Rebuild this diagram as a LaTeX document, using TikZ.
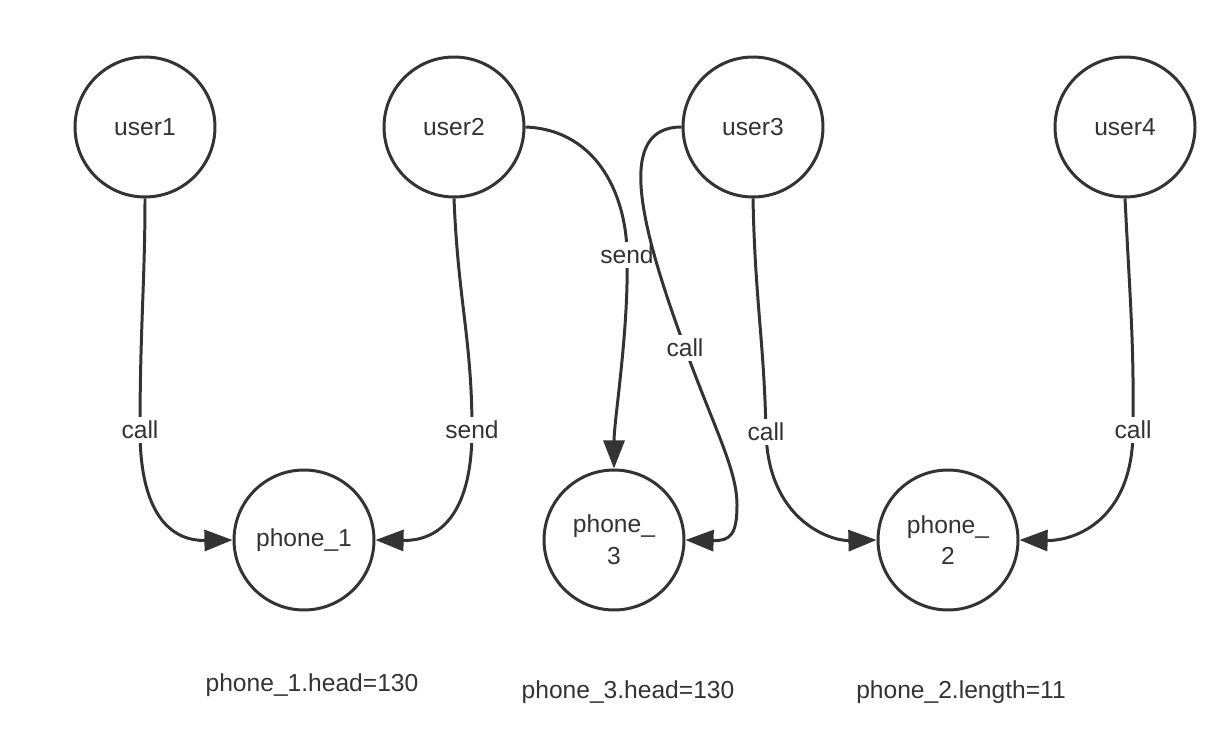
\documentclass[tikz,border=0pt]{standalone}
\usepackage{fontspec}
\setmainfont{Liberation Sans}
\usetikzlibrary{arrows.meta}
\definecolor{ink}{HTML}{333333}
\tikzset{
  ent/.style={circle, draw=ink, line width=1.7pt, minimum size=2.8cm, inner sep=0pt,
    text=ink, align=center, font=\fontsize{14pt}{18pt}\selectfont},
  conn/.style={draw=ink, line width=1.7pt, -{Triangle[length=16pt,width=12pt]}},
  lbl/.style={fill=white, text=ink, inner sep=2pt, font=\fontsize{14pt}{18pt}\selectfont},
  note/.style={text=ink, inner sep=0pt, font=\fontsize{14pt}{18pt}\selectfont},
}
\begin{document}
\begin{tikzpicture}[x=0.02cm, y=-0.02cm]
\useasboundingbox (0,0) rectangle (1226,746);
\node[ent] (u1) at (145,127) {user1};
\node[ent] (u2) at (454,127) {user2};
\node[ent] (u3) at (753,127) {user3};
\node[ent] (u4) at (1125,127) {user4};
\node[ent] (p1) at (304,540) {phone\_1};
\node[ent] (p3) at (614,540) {phone\_\\3};
\node[ent] (p2) at (948,540) {phone\_\\2};

\draw[conn] (u1.south) .. controls (145,280) and (140,330) .. (140,430)
  node[lbl] {call} .. controls (140,520) and (175,541) .. (p1.west);
\draw[conn] (u2.south) .. controls (458,300) and (472,340) .. (472,430)
  node[lbl] {send} .. controls (472,520) and (435,541) .. (p1.east);
\draw[conn] (u2.east) .. controls (600,130) and (627,200) .. (627,255)
  node[lbl] {send} .. controls (629,330) and (614,420) .. (p3.north);
\draw[conn] (u3.west) .. controls (615,127) and (640,225) .. (685,348)
  node[lbl] {call} .. controls (715,430) and (737,470) .. (737,505)
  .. controls (737,535) and (730,541) .. (p3.east);
\draw[conn] (u3.south) .. controls (755,300) and (764,340) .. (766,432)
  node[lbl] {call} .. controls (768,520) and (830,541) .. (p2.west);
\draw[conn] (u4.south) .. controls (1130,300) and (1134,340) .. (1133,430)
  node[lbl] {call} .. controls (1133,520) and (1075,541) .. (p2.east);

\node[note] (n1) at (312,685) {phone\_1.head=130};
\node[note] (n3) at (628,692) {phone\_3.head=130};
\node[note] (n2) at (961,692) {phone\_2.length=11};
\end{tikzpicture}
\end{document}
